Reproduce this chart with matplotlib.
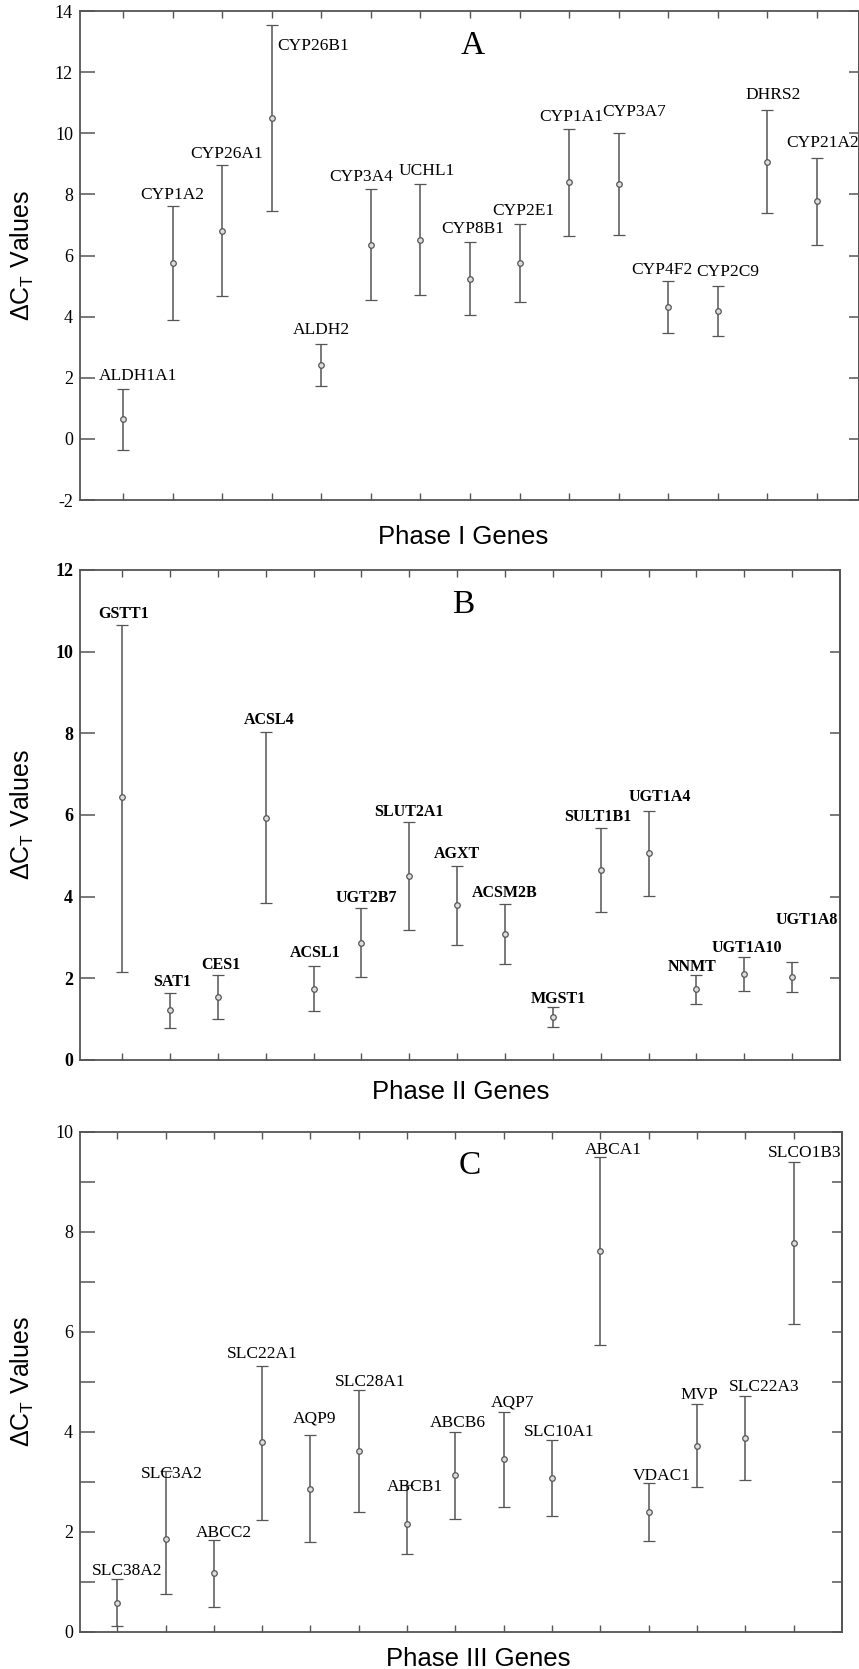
import numpy as np
import matplotlib.pyplot as plt

plt.rcParams['font.family'] = 'Liberation Serif'
plt.rcParams['axes.unicode_minus'] = False
plt.rcParams['mathtext.default'] = 'regular'

# Phase I genes (panel A)
genes_a = ['ALDH1A1', 'CYP1A2', 'CYP26A1', 'CYP26B1', 'ALDH2', 'CYP3A4', 'UCHL1', 'CYP8B1',
           'CYP2E1', 'CYP1A1', 'CYP3A7', 'CYP4F2', 'CYP2C9', 'DHRS2', 'CYP21A2']
mean_a = [0.65, 5.75, 6.81, 10.50, 2.42, 6.35, 6.51, 5.24, 5.74, 8.39, 8.35, 4.30, 4.20, 9.07, 7.78]
low_a = [-0.35, 3.90, 4.67, 7.46, 1.74, 4.53, 4.70, 4.04, 4.48, 6.63, 6.68, 3.47, 3.37, 7.39, 6.35]
high_a = [1.62, 7.63, 8.95, 13.54, 3.09, 8.19, 8.33, 6.44, 7.04, 10.13, 10.00, 5.17, 5.01, 10.75, 9.20]

# Phase II genes (panel B)
genes_b = ['GSTT1', 'SAT1', 'CES1', 'ACSL4', 'ACSL1', 'UGT2B7', 'SLUT2A1', 'AGXT',
           'ACSM2B', 'MGST1', 'SULT1B1', 'UGT1A4', 'NNMT', 'UGT1A10', 'UGT1A8']
mean_b = [6.43, 1.22, 1.55, 5.92, 1.75, 2.86, 4.50, 3.80, 3.09, 1.05, 4.66, 5.06, 1.74, 2.10, 2.03]
low_b = [2.15, 0.79, 1.01, 3.84, 1.19, 2.02, 3.19, 2.81, 2.35, 0.80, 3.62, 4.02, 1.38, 1.69, 1.66]
high_b = [10.66, 1.64, 2.08, 8.03, 2.30, 3.72, 5.83, 4.75, 3.83, 1.29, 5.69, 6.09, 2.08, 2.51, 2.40]

# Phase III genes (panel C)
genes_c = ['SLC38A2', 'SLC3A2', 'ABCC2', 'SLC22A1', 'AQP9', 'SLC28A1', 'ABCB1', 'ABCB6',
           'AQP7', 'SLC10A1', 'ABCA1', 'VDAC1', 'MVP', 'SLC22A3', 'SLCO1B3']
mean_c = [0.57, 1.86, 1.18, 3.80, 2.86, 3.61, 2.15, 3.14, 3.45, 3.07, 7.61, 2.40, 3.72, 3.87, 7.77]
low_c = [0.12, 0.75, 0.50, 2.24, 1.79, 2.39, 1.56, 2.25, 2.50, 2.31, 5.73, 1.82, 2.89, 3.03, 6.15]
high_c = [1.05, 3.22, 1.84, 5.32, 3.94, 4.84, 2.94, 4.00, 4.39, 3.84, 9.50, 2.98, 4.55, 4.72, 9.40]

# label offsets from the top cap, in pixels
dx_a = [15, 0, 4, 41, 0, -10, 6, 3, 4, 2, 15, -6, 10, 6, 6]
dy_a = [9, 7, 7, -25, 10, 8, 9, 9, 9, 8, 17, 7, 10, 11, 11]
dx_b = [2, 2, 3, 3, 2, 5, 0, 0, 0, 5, -3, 11, -4, 3, 15]
dy_b = [7, 7, 6, 8, 9, 6, 6, 8, 7, 4, 7, 10, 4, 5, 38]
dx_c = [10, 6, 10, 0, 4, 11, 8, 2, 9, 7, 13, 13, 2, 19, 11]
dy_c = [4, -7, 3, 8, 12, 4, -6, 5, 6, 4, 3, 3, 5, 5, 5]

GRAY = '#555555'


def panel(rect, genes, mean, low, high, dx, dy, xlim, ylim, yticks, ylabels,
          letter, letter_xy, xlabel, xlabel_xy, ylabel_x, bold):
    ax = fig.add_axes(rect)
    x = np.arange(1, len(genes) + 1)
    mean = np.array(mean)
    err = [mean - np.array(low), np.array(high) - mean]
    ax.errorbar(x, mean, yerr=err, fmt='o', ms=4, mfc='#dddddd', mec=GRAY, mew=0.9,
                ecolor=GRAY, elinewidth=1.1, capsize=4.4, capthick=1.1)
    w = 'bold' if bold else 'normal'
    fs = 11.5 if bold else 12.5
    for xi, g, h, ddx, ddy in zip(x, genes, high, dx, dy):
        ax.annotate(g, (xi, h), xytext=(ddx, ddy), textcoords='offset pixels',
                    ha='center', va='baseline', fontsize=fs, fontweight=w)
    ax.set_xlim(xlim)
    ax.set_ylim(ylim)
    ax.set_xticks(x)
    ax.set_xticklabels([])
    ax.set_yticks(yticks)
    ax.set_yticklabels(ylabels, fontsize=13, fontweight=w)
    ax.tick_params(axis='x', direction='in', top=True, bottom=True, length=5,
                   width=1, color=GRAY)
    ax.tick_params(axis='y', direction='in', left=True, right=False, length=11,
                   width=1.1, color=GRAY, pad=5)
    sec = ax.secondary_yaxis('right')
    sec.set_yticks(yticks)
    sec.tick_params(direction='in', length=7, width=1.1, color=GRAY, labelright=False)
    for s in list(ax.spines.values()) + [sec.spines['right']]:
        s.set_color(GRAY)
        s.set_linewidth(1.3)
    ax.text(letter_xy[0], letter_xy[1], letter, transform=ax.transAxes,
            ha='center', va='center', fontsize=24)
    ax.set_xlabel(xlabel, fontsize=18.5, family='Liberation Sans')
    ax.xaxis.set_label_coords(*xlabel_xy)
    ax.xaxis.label.set_va('center')
    ax.set_ylabel('ΔC$_T$ Values', fontsize=18, family='Liberation Sans')
    ax.yaxis.set_label_coords(ylabel_x, 0.5)
    ax.yaxis.label.set_va('center')
    return ax


fig = plt.figure(figsize=(8.59, 16.69), dpi=100)

ticks_a = list(range(-2, 15, 2))
panel([0.0931, 0.7004, 0.9069, 0.2930], genes_a, mean_a, low_a, high_a, dx_a, dy_a,
      (0.13, 15.85), (-2, 14), ticks_a, [str(t) for t in ticks_a],
      'A', (0.504, 0.929), 'Phase I Genes', (0.492, -0.076), -0.0745, False)

ticks_b = list(range(0, 13, 2))
panel([0.0931, 0.3649, 0.8848, 0.2936], genes_b, mean_b, low_b, high_b, dx_b, dy_b,
      (0.12, 16.0), (0, 12), ticks_b, [str(t) for t in ticks_b],
      'B', (0.504, 0.930), 'Phase II Genes', (0.501, -0.065), -0.0763, True)

ticks_c = list(range(0, 11))
panel([0.0931, 0.0222, 0.8871, 0.2996], genes_c, mean_c, low_c, high_c, dx_c, dy_c,
      (0.23, 16.0), (0, 10), ticks_c, [str(t) if t % 2 == 0 else '' for t in ticks_c],
      'C', (0.511, 0.933), 'Phase III Genes', (0.523, -0.054), -0.0761, False)

fig.savefig('out.png', dpi=100)
